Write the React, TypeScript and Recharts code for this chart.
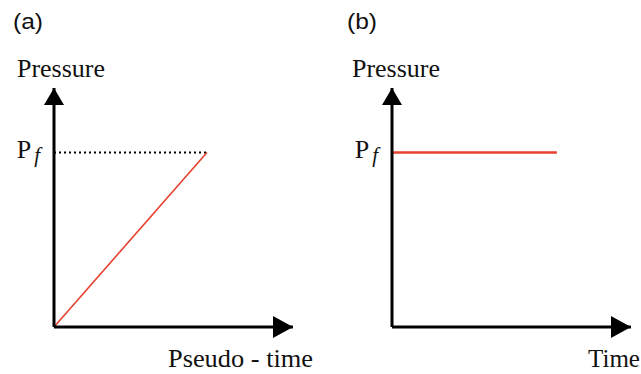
import React from "react";
import {
  LineChart,
  Line,
  XAxis,
  YAxis,
  ReferenceLine,
  ReferenceDot,
} from "recharts";

// pressure ramp (a) and constant-pressure hold (b), arbitrary units on 0..10 axes
const PF = 7.3;
const rampTime = [0, 6.4];
const rampPressure = [0, PF];
const holdTime = [0, 6.9];
const holdPressure = [PF, PF];
const AXIS_MAX = 10;

const panelTitles = ["(a)", "(b)"];
const xTitles = ["Pseudo - time", "Time"];
const yTitle = "Pressure";

const RED = "#e8412f";
const SERIF = "Liberation Serif";
const SANS = "Liberation Sans";

const toRows = (t: number[], p: number[]) => t.map((v, i) => ({ t: v, p: p[i] }));

// "P" with italic subscript f, used as the only y tick
const PfTick = (props: any) => {
  const { x, y } = props;
  return (
    <text x={x} y={y + 5} textAnchor="end" style={{ fontFamily: SERIF }} fill="#111">
      <tspan style={{ fontSize: 26 }}>P</tspan>
      <tspan style={{ fontSize: 21, fontStyle: "italic" }} dx={3} dy={4}>
        f
      </tspan>
    </text>
  );
};

const upArrow = (labelDx: number, labelLen: number) => (props: any) => {
  const { cx, cy } = props;
  return (
    <g>
      <polygon
        points={`${cx},${cy} ${cx - 10},${cy + 17} ${cx + 10},${cy + 17}`}
        fill="#000"
      />
      <text
        x={cx + labelDx}
        y={cy - 11}
        textAnchor="middle"
        style={{ fontFamily: SERIF, fontSize: 25 }}
        fill="#111"
        textLength={labelLen}
        lengthAdjust="spacingAndGlyphs"
      >
        {yTitle}
      </text>
    </g>
  );
};

const rightArrow = (label: string, labelDx: number, labelLen: number) => (props: any) => {
  const { cx, cy } = props;
  return (
    <g>
      <polygon
        points={`${cx},${cy} ${cx - 20},${cy - 11} ${cx - 20},${cy + 11}`}
        fill="#000"
      />
      <text
        x={cx + labelDx}
        y={cy + 40}
        textAnchor="end"
        style={{ fontFamily: SERIF, fontSize: 25 }}
        fill="#111"
        textLength={labelLen}
        lengthAdjust="spacingAndGlyphs"
      >
        {label}
      </text>
    </g>
  );
};

interface PanelProps {
  rows: { t: number; p: number }[];
  width: number;
  yAxisWidth: number;
  rightMargin: number;
  lineWidth: number;
  xLabel: string;
  xLabelDx: number;
  xLabelLen: number;
  yLabelDx: number;
  dotted?: boolean;
}

function Panel(p: PanelProps) {
  const endT = p.rows[p.rows.length - 1].t;
  return (
    <LineChart
      width={p.width}
      height={374}
      data={p.rows}
      margin={{ top: 88, right: p.rightMargin, bottom: 0, left: 0 }}
    >
      <XAxis
        dataKey="t"
        type="number"
        domain={[0, AXIS_MAX]}
        height={47}
        tick={false}
        tickLine={false}
        axisLine={{ stroke: "#000", strokeWidth: 3 }}
      />
      <YAxis
        type="number"
        domain={[0, AXIS_MAX]}
        width={p.yAxisWidth}
        ticks={[PF]}
        tick={<PfTick />}
        tickLine={false}
        tickSize={0}
        tickMargin={14}
        axisLine={{ stroke: "#000", strokeWidth: 3 }}
      />
      {p.dotted && (
        <ReferenceLine
          segment={[
            { x: 0, y: PF },
            { x: endT, y: PF },
          ]}
          stroke="#000"
          strokeWidth={2}
          strokeDasharray="2 3"
        />
      )}
      <Line
        dataKey="p"
        type="linear"
        stroke={RED}
        strokeWidth={p.lineWidth}
        dot={false}
        isAnimationActive={false}
      />
      <ReferenceDot
        x={0}
        y={AXIS_MAX}
        ifOverflow="visible"
        shape={upArrow(p.yLabelDx, 88)}
      />
      <ReferenceDot
        x={AXIS_MAX}
        y={0}
        ifOverflow="visible"
        shape={rightArrow(p.xLabel, p.xLabelDx, p.xLabelLen)}
      />
    </LineChart>
  );
}

export default function App() {
  return (
    <div
      style={{
        position: "absolute",
        left: 0,
        top: 0,
        width: 641,
        height: 374,
        background: "#fff",
        overflow: "hidden",
      }}
    >
      <div style={{ position: "absolute", left: 0, top: 0 }}>
        <Panel
          rows={toRows(rampTime, rampPressure)}
          width={320}
          yAxisWidth={54}
          rightMargin={27}
          lineWidth={1.6}
          xLabel={xTitles[0]}
          xLabelDx={20}
          xLabelLen={145}
          yLabelDx={7}
          dotted
        />
      </div>
      <div style={{ position: "absolute", left: 320, top: 0 }}>
        <Panel
          rows={toRows(holdTime, holdPressure)}
          width={321}
          yAxisWidth={72}
          rightMargin={10}
          lineWidth={2.6}
          xLabel={xTitles[1]}
          xLabelDx={9}
          xLabelLen={52}
          yLabelDx={4}
        />
      </div>
      <svg
        width={641}
        height={374}
        style={{ position: "absolute", left: 0, top: 0, pointerEvents: "none" }}
      >
        {panelTitles.map((title, i) => (
          <text
            key={title}
            x={i === 0 ? 13 : 347}
            y={29}
            style={{ fontFamily: SANS, fontSize: 22 }}
            fill="#111"
            textLength={30}
            lengthAdjust="spacingAndGlyphs"
          >
            {title}
          </text>
        ))}
      </svg>
    </div>
  );
}
